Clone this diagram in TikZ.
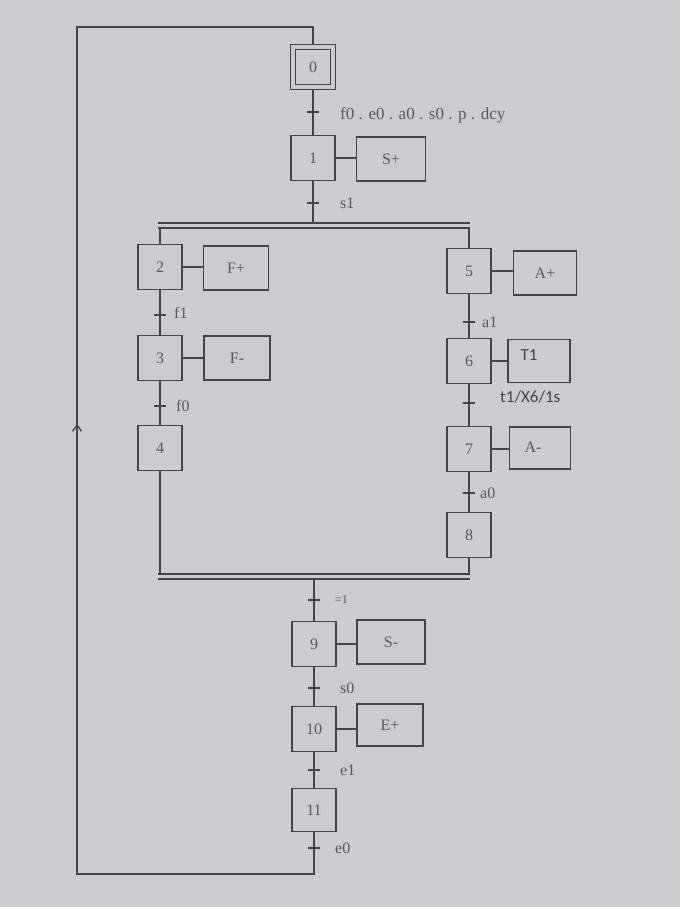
\documentclass[tikz,border=0pt]{standalone}
\usepackage{fontspec}
\setmainfont{Liberation Serif}
\newfontfamily\sansfnt{Carlito}
\usetikzlibrary{arrows.meta}
\definecolor{paper}{RGB}{204,203,208}
\definecolor{ink}{RGB}{68,68,72}
\definecolor{txt}{RGB}{88,88,94}
\begin{document}
\begin{tikzpicture}[x=1pt,y=-1pt,
  every node/.style={font=\fontsize{16}{18}\selectfont, text=txt},
  stepbox/.style={draw=ink, line width=1.4pt, minimum width=44pt, minimum height=45pt, inner sep=0pt},
  actbox/.style={draw=ink, line width=1.4pt, minimum width=66pt, minimum height=44pt, inner sep=0pt},
  link/.style={draw=ink, line width=1.4pt},
  lbl/.style={anchor=west, inner sep=0pt},
  sanslbl/.style={font=\sansfnt\fontsize{17}{18}\selectfont, text=ink}]
\fill[paper] (0,0) rectangle (680,907);
\useasboundingbox (0,0) rectangle (680,907);

% steps
\node[stepbox, minimum width=45pt] (s0) at (313,67) {};
\node[stepbox, minimum width=35pt, minimum height=35pt] (s0i) at (313,67) {0};
\node[stepbox] (s1) at (313,158) {1};
\node[stepbox] (s2) at (160,267) {2};
\node[stepbox] (s3) at (160,358) {3};
\node[stepbox] (s4) at (160,448) {4};
\node[stepbox] (s5) at (469,271) {5};
\node[stepbox] (s6) at (469,361) {6};
\node[stepbox] (s7) at (469,449) {7};
\node[stepbox] (s8) at (469,535) {8};
\node[stepbox] (s9) at (314,644) {9};
\node[stepbox] (s10) at (314,729) {10};
\node[stepbox, minimum height=43pt] (s11) at (314,810) {11};

% actions
\node[actbox, minimum width=69pt] (a1) at (391,159) {S+};
\node[actbox, minimum width=65pt] (a2) at (236,268) {F+};
\node[actbox] (a3) at (237,358) {F-};
\node[actbox, minimum width=63pt] (a5) at (545,273) {A+};
\node[actbox, minimum width=62pt, minimum height=43pt] (a6) at (539,361) {};
\node[sanslbl] at (529,355) {T1};
\node[actbox, minimum width=61pt, minimum height=42pt] (a7) at (540,448) {};
\node at (533,447) {A-};
\node[actbox, minimum width=68pt] (a9) at (391,642) {S-};
\node[actbox, minimum height=42pt] (a10) at (390,725) {E+};

\foreach \s/\a in {s1/a1,s2/a2,s3/a3,s5/a5,s6/a6,s7/a7,s9/a9,s10/a10}
  \draw[link] (\s.east) -- (\a.west |- \s.east);

% divergence / convergence bars
\coordinate (divL) at (158,225.5);
\coordinate (divR) at (470,225.5);
\coordinate (conL) at (158,576.5);
\coordinate (conR) at (470,576.5);
\draw[link] ([yshift=-2.5pt]divL) -- ([yshift=-2.5pt]divR);
\draw[link] ([yshift=2.5pt]divL) -- ([yshift=2.5pt]divR);
\draw[link] ([yshift=-2.5pt]conL) -- ([yshift=-2.5pt]conR);
\draw[link] ([yshift=2.5pt]conL) -- ([yshift=2.5pt]conR);

% links
\draw[link] (s0.south) -- (s1.north);
\draw[link] (s1.south) -- (s1.south |- 0,223);
\draw[link] (s2.north) -- (s2.north |- 0,228);
\draw[link] (s5.north) -- (s5.north |- 0,228);
\draw[link] (s2) -- (s3);
\draw[link] (s3) -- (s4);
\draw[link] (s4.south) -- (s4.south |- 0,574);
\draw[link] (s5) -- (s6);
\draw[link] (s6) -- (s7);
\draw[link] (s7) -- (s8);
\draw[link] (s8.south) -- (s8.south |- 0,574);
\draw[link] (s9.north |- 0,579) -- (s9.north);
\draw[link] (s9) -- (s10);
\draw[link] (s10) -- (s11);

% loop back
\coordinate (bot) at (314,874);
\coordinate (botL) at (77,874);
\coordinate (topL) at (77,27);
\coordinate (top) at (313,27);
\draw[link] (s11.south) -- (bot) -- (botL) -- (topL) -- (top) -- (s0.north);
\draw[ink, line width=1.4pt, -{Straight Barb[length=6pt,width=9pt]}] (77,440) -- (77,424);

% transitions
\foreach \x/\y/\n in {313/112/t0, 313/203/t1, 160/315/t2, 160/406/t3, 469/322/t5, 469/403/t6, 469/493/t7, 314/600/t8, 314/688/t9, 314/770/t10, 314/848/t11}{
  \coordinate (\n) at (\x,\y);
  \draw[link] ([xshift=-6pt]\n) -- ([xshift=6pt]\n);
}
\node[lbl, font=\fontsize{17}{18}\selectfont] at ([xshift=27pt,yshift=-3pt]t0) {f0 . e0 . a0 . s0 . p . dcy};
\node[lbl] at ([xshift=27pt]t1) {s1};
\node[lbl] at ([xshift=14pt,yshift=2pt]t2) {f1};
\node[lbl] at ([xshift=16pt]t3) {f0};
\node[lbl] at ([xshift=13pt]t5) {a1};
\node[lbl, sanslbl] at ([xshift=31pt,yshift=6pt]t6) {t1/X6/1s};
\node[lbl] at ([xshift=11pt]t7) {a0};
\node[lbl, font=\fontsize{12}{14}\selectfont] at ([xshift=21pt]t8) {=1};
\node[lbl] at ([xshift=26pt]t9) {s0};
\node[lbl] at ([xshift=26pt]t10) {e1};
\node[lbl] at ([xshift=21pt]t11) {e0};
\end{tikzpicture}
\end{document}
